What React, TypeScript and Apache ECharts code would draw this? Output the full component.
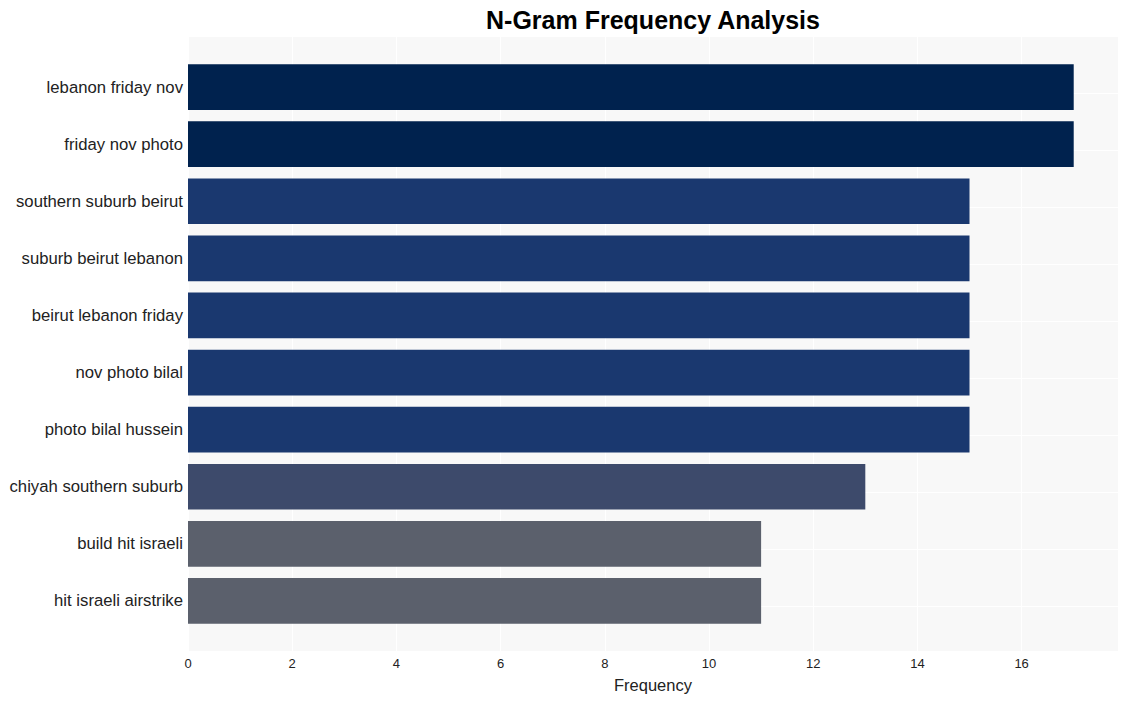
import React, { useEffect, useRef } from "react";
import * as echarts from "echarts";

const categories = [
  "lebanon friday nov",
  "friday nov photo",
  "southern suburb beirut",
  "suburb beirut lebanon",
  "beirut lebanon friday",
  "nov photo bilal",
  "photo bilal hussein",
  "chiyah southern suburb",
  "build hit israeli",
  "hit israeli airstrike",
];
const values = [17, 17, 15, 15, 15, 15, 15, 13, 11, 11];
const barColors = [
  "#00224e", "#00224e", "#1a386f", "#1a386f", "#1a386f",
  "#1a386f", "#1a386f", "#3d4a6b", "#5b606c", "#5b606c",
];
const xTicks = [0, 2, 4, 6, 8, 10, 12, 14, 16];
const titleText = "N-Gram Frequency Analysis";

const FONT = "Liberation Sans, Arial, sans-serif";

export default function App() {
  const ref = useRef<HTMLDivElement>(null);
  useEffect(() => {
    if (!ref.current) return;
    const chart = echarts.init(ref.current, null, { renderer: "svg" });
    const xMax = 17.85;
    chart.setOption({
      animation: false,
      backgroundColor: "#ffffff",
      textStyle: { fontFamily: FONT },
      graphic: [
        {
          type: "text",
          x: 653,
          y: 20,
          style: {
            text: titleText,
            fontSize: 25,
            fontWeight: "bold",
            fill: "#000",
            fontFamily: FONT,
            textAlign: "center",
            textVerticalAlign: "middle",
          },
        },
      ],
      grid: [
        { left: 188, right: 9, top: 36, bottom: 50, show: true, backgroundColor: "#f8f8f8", borderWidth: 0 },
        { left: 188, right: 9, top: 58.5, bottom: 71.5 },
      ],
      xAxis: [
        {
          gridIndex: 0,
          type: "value",
          min: 0,
          max: xMax,
          interval: 2,
          axisLine: { show: false },
          axisTick: { show: false },
          splitLine: { show: true, lineStyle: { color: "#ffffff", width: 1 } },
          axisLabel: {
            color: "#222",
            fontSize: 13,
            margin: 6,
            fontFamily: FONT,
            showMaxLabel: false,
            formatter: (v: number) => (xTicks.includes(v) ? String(v) : ""),
          },
          name: "Frequency",
          nameLocation: "middle",
          nameGap: 25,
          nameTextStyle: { fontSize: 16.5, color: "#222", fontFamily: FONT },
        },
        {
          gridIndex: 1,
          type: "value",
          min: 0,
          max: xMax,
          show: false,
        },
      ],
      yAxis: [
        {
          gridIndex: 0,
          type: "value",
          min: -0.89,
          max: 9.89,
          interval: 1,
          inverse: true,
          axisLine: { show: false },
          axisTick: { show: false },
          axisLabel: { show: false },
          splitLine: { show: true, lineStyle: { color: "#ffffff", width: 1 } },
        },
        {
          gridIndex: 1,
          type: "category",
          data: categories,
          inverse: true,
          axisLine: { show: false },
          axisTick: { show: false },
          splitLine: { show: false },
          axisLabel: { color: "#222", fontSize: 16.7, margin: 5, fontFamily: FONT },
        },
      ],
      series: [
        {
          type: "bar",
          xAxisIndex: 1,
          yAxisIndex: 1,
          barWidth: "80%",
          data: values.map((v, i) => ({ value: v, itemStyle: { color: barColors[i] } })),
        },
      ],
    });
    return () => chart.dispose();
  }, []);
  return <div ref={ref} style={{ width: 1127, height: 701, position: "absolute", left: 0, top: 0 }} />;
}
